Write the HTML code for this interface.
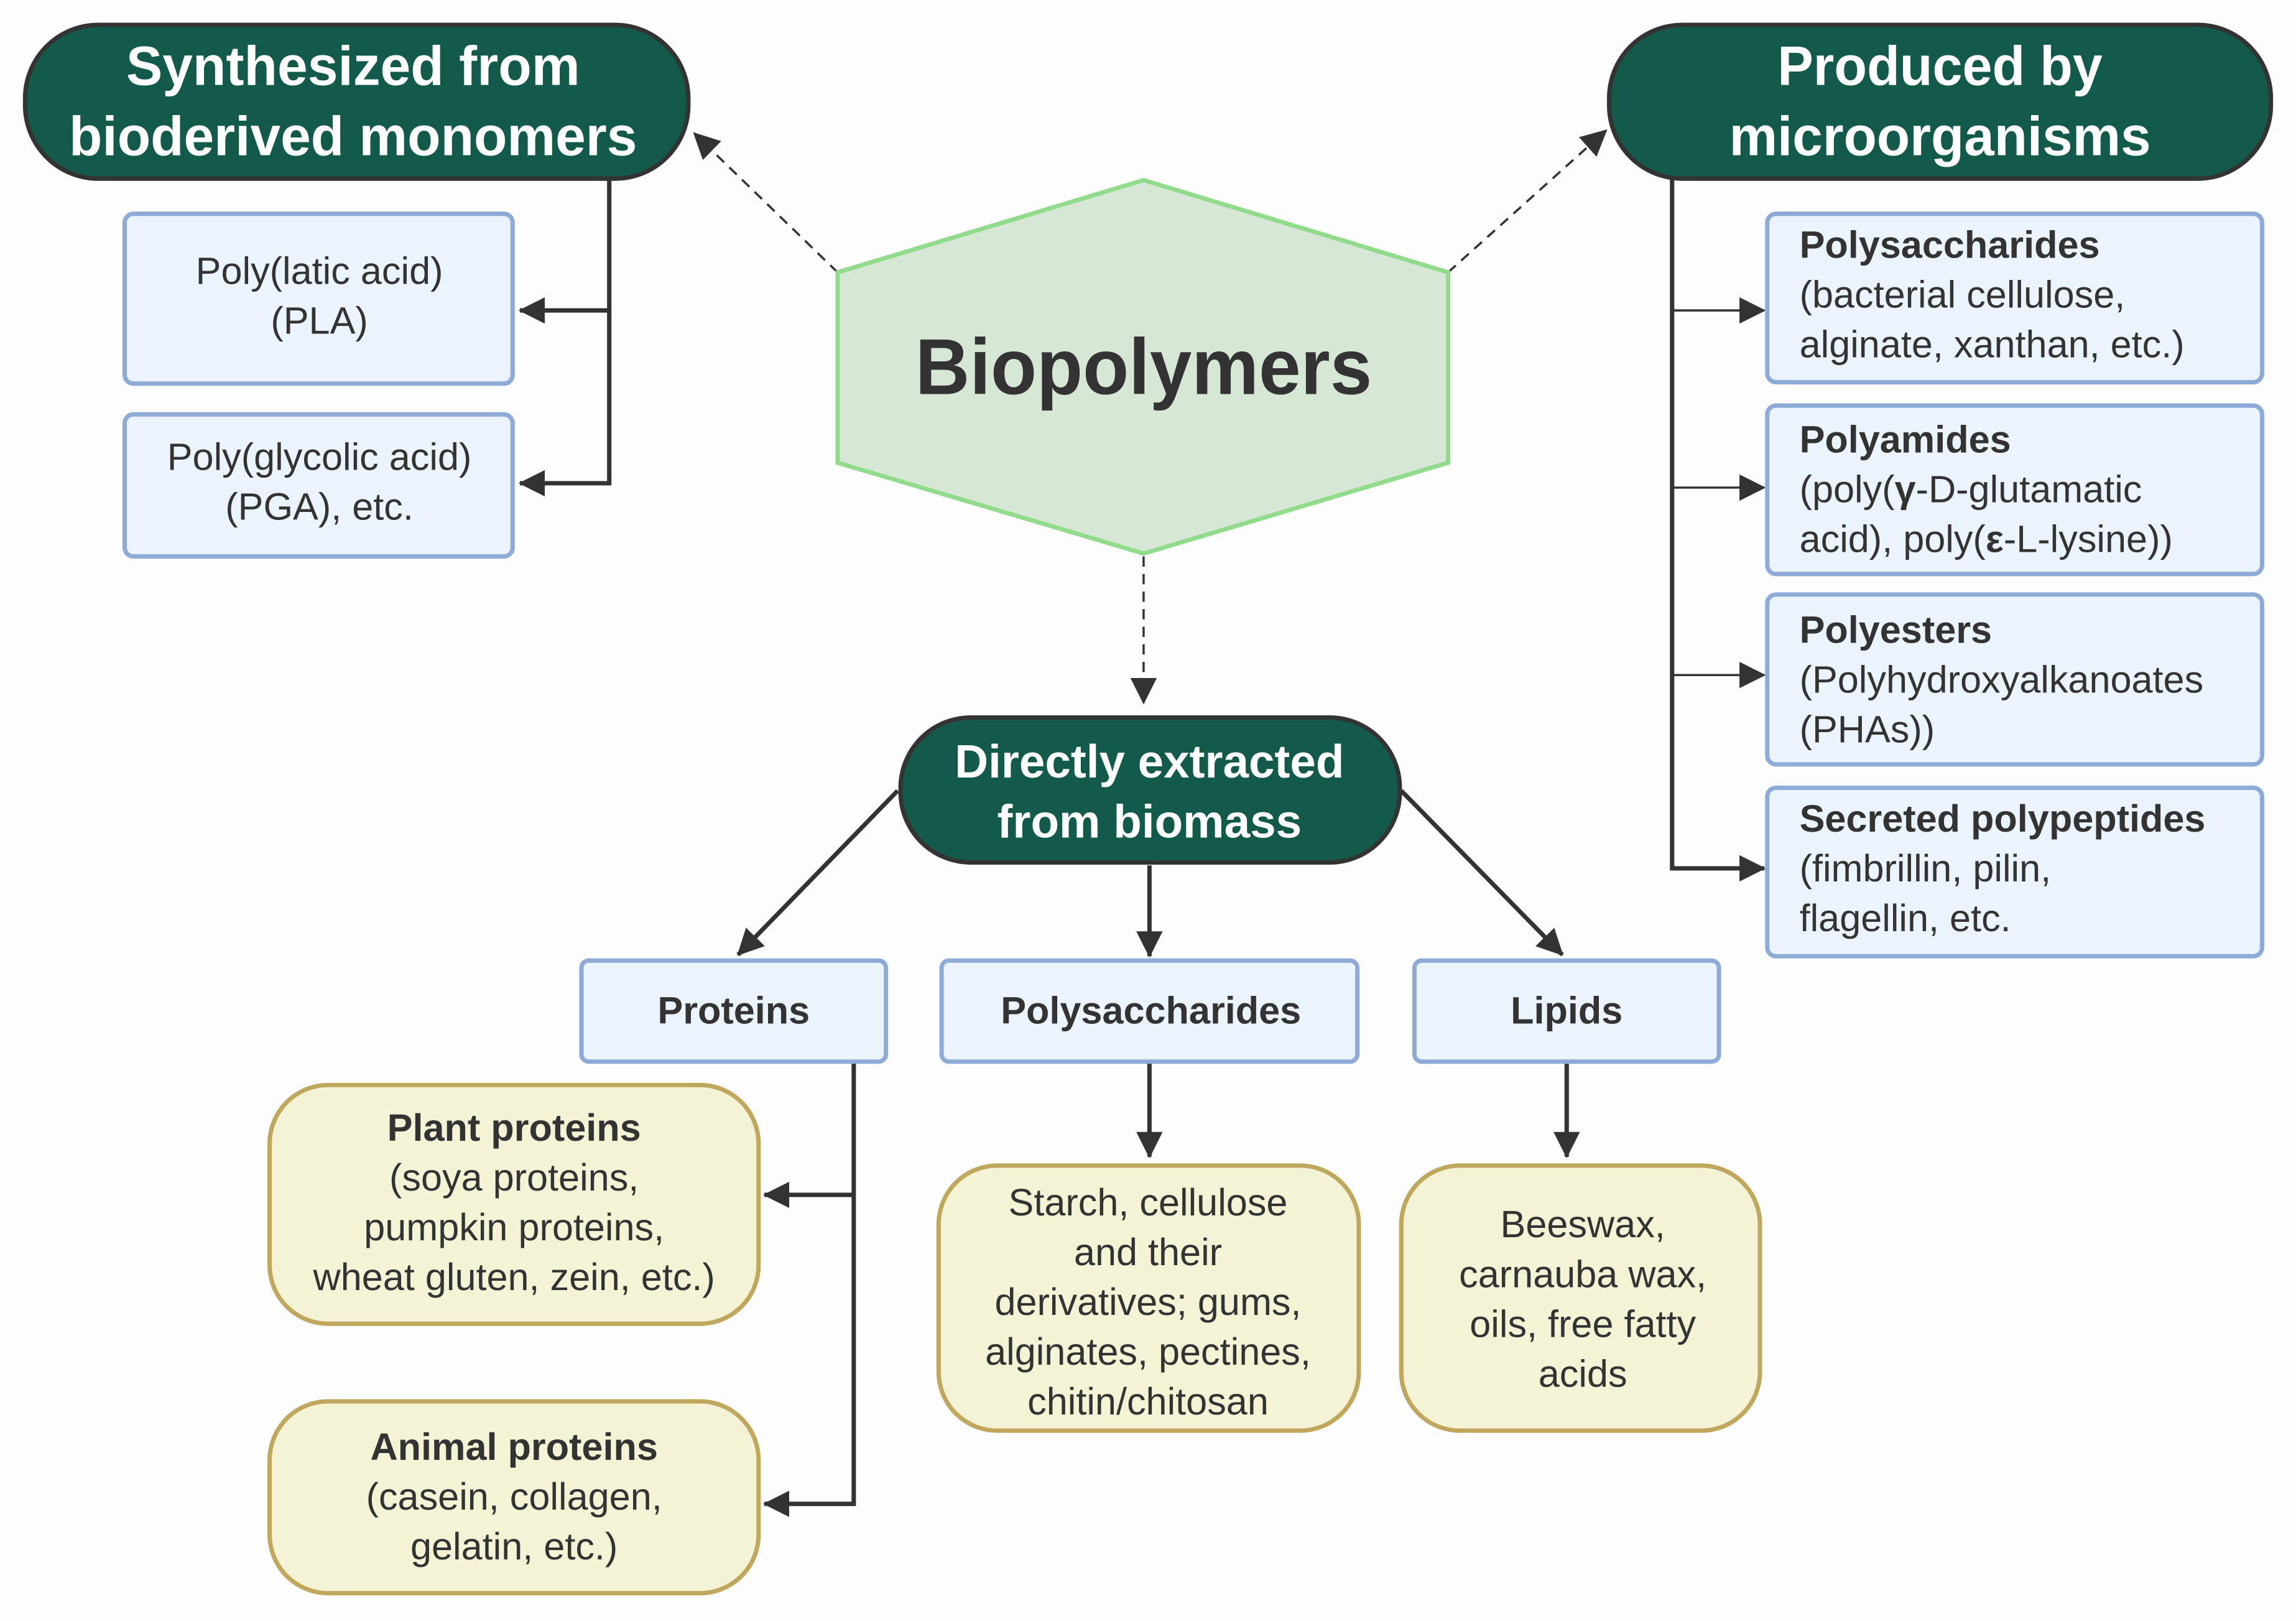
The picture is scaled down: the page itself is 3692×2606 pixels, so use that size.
<!DOCTYPE html>
<html><head><meta charset="utf-8"><style>
html,body{margin:0;padding:0;background:#fdfdfd;}
svg{display:block;}
text{font-family:"Liberation Sans",sans-serif;}
</style></head><body>
<svg width="3692" height="2606" viewBox="0 0 1568 1107" xmlns="http://www.w3.org/2000/svg">
<defs>
<marker id="a" markerWidth="10" markerHeight="10" refX="9" refY="5" orient="auto" markerUnits="userSpaceOnUse" viewBox="0 0 10 10"><path d="M0,0L10,5L0,10z" fill="#333"/></marker>
<marker id="b" markerWidth="18" markerHeight="18" refX="17" refY="9" orient="auto" markerUnits="userSpaceOnUse" viewBox="0 0 18 18"><path d="M0,0L18,9L0,18z" fill="#333"/></marker>
</defs>
<rect width="1568" height="1107" fill="#fdfdfd"/>
<g stroke="#333" stroke-width="1.5" stroke-dasharray="7,5" fill="none">
<line x1="572" y1="186" x2="474" y2="91" marker-end="url(#b)"/>
<line x1="989" y1="186" x2="1097" y2="89" marker-end="url(#b)"/>
<line x1="781" y1="380" x2="781" y2="480" marker-end="url(#b)"/>
</g>
<polygon points="572,186 781,123 989,186 989,316 781,378 572,316" fill="#d6e8d5" stroke="#93db8c" stroke-width="3"/>
<text x="781" y="269" font-size="54" font-weight="bold" fill="#333" text-anchor="middle" textLength="312" lengthAdjust="spacingAndGlyphs">Biopolymers</text>
<g fill="#135a4b" stroke="#333" stroke-width="3">
<rect x="17" y="17" width="453" height="105" rx="50"/>
<rect x="1099" y="17" width="452" height="105" rx="50"/>
<rect x="615" y="490" width="341" height="99" rx="48"/>
</g>
<g fill="#fff" font-weight="bold" text-anchor="middle">
<text x="241" y="58" font-size="38" textLength="310" lengthAdjust="spacingAndGlyphs">Synthesized from</text>
<text x="241" y="106" font-size="38" textLength="388" lengthAdjust="spacingAndGlyphs">bioderived monomers</text>
<text x="1325" y="58" font-size="38" textLength="222" lengthAdjust="spacingAndGlyphs">Produced by</text>
<text x="1325" y="106" font-size="38" textLength="288" lengthAdjust="spacingAndGlyphs">microorganisms</text>
<text x="785" y="531" font-size="32" textLength="266" lengthAdjust="spacingAndGlyphs">Directly extracted</text>
<text x="785" y="572" font-size="32" textLength="208" lengthAdjust="spacingAndGlyphs">from biomass</text>
</g>
<g stroke="#333" stroke-width="3" fill="none">
<polyline points="416,122 416,330 355,330" marker-end="url(#b)"/>
<line x1="416" y1="212" x2="355" y2="212" marker-end="url(#b)"/>
<polyline points="1142,122 1142,593 1205,593" marker-end="url(#b)"/>
<line x1="1142" y1="212" x2="1205" y2="212" stroke-width="1.5" marker-end="url(#b)"/>
<line x1="1142" y1="333" x2="1205" y2="333" stroke-width="1.5" marker-end="url(#b)"/>
<line x1="1142" y1="461" x2="1205" y2="461" stroke-width="1.5" marker-end="url(#b)"/>
<line x1="613" y1="540" x2="504" y2="652" marker-end="url(#b)"/>
<line x1="785" y1="591" x2="785" y2="653" marker-end="url(#b)"/>
<line x1="957" y1="540" x2="1067" y2="652" marker-end="url(#b)"/>
<polyline points="583,725 583,1027 522,1027" marker-end="url(#b)"/>
<line x1="583" y1="816" x2="522" y2="816" marker-end="url(#b)"/>
<line x1="785" y1="725" x2="785" y2="790" marker-end="url(#b)"/>
<line x1="1070" y1="725" x2="1070" y2="790" marker-end="url(#b)"/>
</g>
<g fill="#ebf3fd" stroke="#8eabd8" stroke-width="3">
<rect x="85" y="146" width="265" height="116" rx="6"/>
<rect x="85" y="283" width="265" height="97" rx="6"/>
<rect x="1207" y="146" width="338" height="115" rx="6"/>
<rect x="1207" y="277" width="338" height="115" rx="6"/>
<rect x="1207" y="406" width="338" height="116" rx="6"/>
<rect x="1207" y="538" width="338" height="115" rx="6"/>
<rect x="397" y="656" width="208" height="69" rx="5"/>
<rect x="643" y="656" width="284" height="69" rx="5"/>
<rect x="966" y="656" width="208" height="69" rx="5"/>
</g>
<g fill="#f5f3d6" stroke="#c0a75e" stroke-width="3">
<rect x="184" y="741" width="334" height="163" rx="40"/>
<rect x="184" y="957" width="334" height="131" rx="40"/>
<rect x="641" y="796" width="287" height="181" rx="40"/>
<rect x="957" y="796" width="245" height="181" rx="40"/>
</g>
<g fill="#333" font-size="26" text-anchor="middle">
<text x="218" y="194">Poly(latic acid)</text>
<text x="218" y="228">(PLA)</text>
<text x="218" y="321">Poly(glycolic acid)</text>
<text x="218" y="355">(PGA), etc.</text>
<text x="501" y="699" font-weight="bold">Proteins</text>
<text x="786" y="699" font-weight="bold">Polysaccharides</text>
<text x="1070" y="699" font-weight="bold">Lipids</text>
<text x="351" y="779" font-weight="bold">Plant proteins</text>
<text x="351" y="813">(soya proteins,</text>
<text x="351" y="847">pumpkin proteins,</text>
<text x="351" y="881">wheat gluten, zein, etc.)</text>
<text x="351" y="997" font-weight="bold">Animal proteins</text>
<text x="351" y="1031">(casein, collagen,</text>
<text x="351" y="1065">gelatin, etc.)</text>
<text x="784" y="830">Starch, cellulose</text>
<text x="784" y="864">and their</text>
<text x="784" y="898">derivatives; gums,</text>
<text x="784" y="932">alginates, pectines,</text>
<text x="784" y="966">chitin/chitosan</text>
<text x="1081" y="845">Beeswax,</text>
<text x="1081" y="879">carnauba wax,</text>
<text x="1081" y="913">oils, free fatty</text>
<text x="1081" y="947">acids</text>
</g>
<g fill="#333" font-size="26">
<text x="1229" y="176" font-weight="bold">Polysaccharides</text>
<text x="1229" y="210">(bacterial cellulose,</text>
<text x="1229" y="244">alginate, xanthan, etc.)</text>
<text x="1229" y="309" font-weight="bold">Polyamides</text>
<text x="1229" y="343">(poly(<tspan font-weight="bold">γ</tspan>-D-glutamatic</text>
<text x="1229" y="377">acid), poly(<tspan font-weight="bold">ε</tspan>-L-lysine))</text>
<text x="1229" y="439" font-weight="bold">Polyesters</text>
<text x="1229" y="473">(Polyhydroxyalkanoates</text>
<text x="1229" y="507">(PHAs))</text>
<text x="1229" y="568" font-weight="bold">Secreted polypeptides</text>
<text x="1229" y="602">(fimbrillin, pilin,</text>
<text x="1229" y="636">flagellin, etc.</text>
</g>
</svg>
</body></html>
